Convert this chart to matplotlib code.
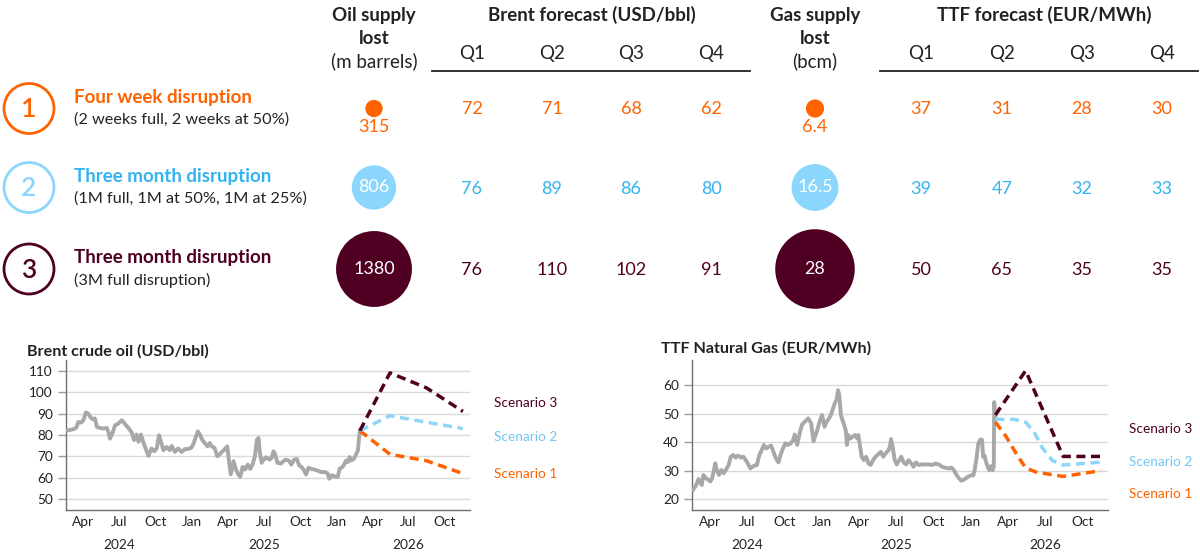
import pandas as pd
import matplotlib
matplotlib.use('Agg')
import matplotlib.pyplot as plt
import matplotlib.dates as mdates
import matplotlib.transforms as mtransforms
from matplotlib.patches import Circle

plt.rcParams['font.family'] = ['Lato', 'DejaVu Sans']

ORANGE = '#ff6200'
SKY = '#8bd6fc'
SKY_TEXT = '#33b3ef'
SKY_LINE = '#8fd5f8'
MAROON = '#4f0022'
GREY = '#a8a8a8'
INK = '#222222'

# ---- table data ----
scenario_titles = ['Four week disruption', 'Three month disruption', 'Three month disruption']
scenario_notes = ['(2 weeks full, 2 weeks at 50%)', '(1M full, 1M at 50%, 1M at 25%)',
                  '(3M full disruption)']
oil_lost = [315, 806, 1380]
gas_lost = [6.4, 16.5, 28]
quarters = ['Q1', 'Q2', 'Q3', 'Q4']
brent_forecast = [[72, 71, 68, 62], [76, 89, 86, 80], [76, 110, 102, 91]]
ttf_forecast = [[37, 31, 28, 30], [39, 47, 32, 33], [50, 65, 35, 35]]

# ---- Brent history (USD/bbl) ----
brent_dates = [
    '2024-02-22', '2024-03-02', '2024-03-11', '2024-03-15', '2024-03-19', '2024-03-26',
    '2024-04-01', '2024-04-07', '2024-04-13', '2024-04-20', '2024-04-24', '2024-04-30',
    '2024-05-05', '2024-05-13', '2024-05-21', '2024-05-30', '2024-06-03', '2024-06-07',
    '2024-06-13', '2024-06-20', '2024-06-28', '2024-07-07', '2024-07-11', '2024-07-19',
    '2024-07-25', '2024-08-01', '2024-08-07', '2024-08-13', '2024-08-18', '2024-08-24',
    '2024-08-30', '2024-09-05', '2024-09-12', '2024-09-20', '2024-09-27', '2024-10-03',
    '2024-10-09', '2024-10-14', '2024-10-20', '2024-10-28', '2024-11-05', '2024-11-10',
    '2024-11-18', '2024-11-26', '2024-12-05', '2024-12-13', '2024-12-22', '2024-12-29',
    '2025-01-03', '2025-01-09', '2025-01-15', '2025-01-20', '2025-01-26', '2025-02-01',
    '2025-02-08', '2025-02-14', '2025-02-19', '2025-02-26', '2025-03-05', '2025-03-11',
    '2025-03-16', '2025-03-23', '2025-03-30', '2025-04-04', '2025-04-08', '2025-04-15',
    '2025-04-21', '2025-04-27', '2025-05-02', '2025-05-08', '2025-05-14', '2025-05-21',
    '2025-05-27', '2025-06-02', '2025-06-08', '2025-06-13', '2025-06-17', '2025-06-20',
    '2025-06-25', '2025-06-30', '2025-07-06', '2025-07-15', '2025-07-20', '2025-07-25',
    '2025-07-29', '2025-08-04', '2025-08-13', '2025-08-19', '2025-08-25', '2025-09-02',
    '2025-09-08', '2025-09-15', '2025-09-22', '2025-09-28', '2025-10-04', '2025-10-11',
    '2025-10-15', '2025-10-21', '2025-10-28', '2025-11-05', '2025-11-13', '2025-11-22',
    '2025-12-01', '2025-12-08', '2025-12-13', '2025-12-19', '2025-12-26', '2026-01-03',
    '2026-01-08', '2026-01-13', '2026-01-18', '2026-01-24', '2026-01-29', '2026-02-02',
    '2026-02-06', '2026-02-13', '2026-02-19', '2026-02-23', '2026-02-26', '2026-02-28']
brent_values = [
    82.2, 82.5, 83.0, 83.8, 86.1, 85.8,
    86.9, 90.5, 90.0, 88.0, 87.4, 87.7,
    83.8, 83.3, 83.0, 83.3, 81.4, 78.3,
    80.7, 84.6, 85.3, 86.9, 86.1, 84.2,
    83.0, 81.1, 77.6, 80.2, 76.8, 80.2,
    76.8, 73.7, 70.3, 73.7, 72.4, 73.7,
    79.9, 76.8, 72.9, 74.4, 72.9, 74.9,
    72.1, 73.7, 72.1, 73.4, 73.5, 74.0,
    75.5, 78.6, 81.7, 80.2, 77.8, 76.3,
    74.7, 76.3, 74.7, 74.0, 70.1, 70.9,
    72.0, 73.2, 74.7, 67.0, 61.6, 67.8,
    63.9, 61.6, 60.5, 65.1, 63.9, 66.2,
    64.2, 66.2, 70.1, 77.8, 78.6, 72.4,
    67.0, 68.5, 69.6, 68.5, 69.3, 72.4,
    70.9, 67.0, 66.7, 67.8, 68.5, 68.0,
    66.2, 68.5, 68.8, 65.7, 65.1, 63.1,
    61.6, 64.7, 64.2, 63.9, 63.4, 62.7,
    62.7, 62.2, 59.6, 61.2, 60.7, 60.4,
    64.3, 64.7, 65.8, 68.1, 67.4, 69.7,
    68.1, 68.9, 71.2, 72.8, 79.0, 82.0]

# ---- TTF history (EUR/MWh) ----
ttf_dates = [
    '2024-02-19', '2024-02-25', '2024-02-29', '2024-03-04', '2024-03-08', '2024-03-12',
    '2024-03-16', '2024-03-23', '2024-03-29', '2024-04-02', '2024-04-06', '2024-04-10',
    '2024-04-14', '2024-04-18', '2024-04-23', '2024-04-29', '2024-05-05', '2024-05-12',
    '2024-05-17', '2024-05-22', '2024-05-28', '2024-06-03', '2024-06-09', '2024-06-16',
    '2024-06-22', '2024-06-28', '2024-07-04', '2024-07-09', '2024-07-14', '2024-07-20',
    '2024-07-25', '2024-07-31', '2024-08-06', '2024-08-11', '2024-08-17', '2024-08-23',
    '2024-08-29', '2024-09-05', '2024-09-10', '2024-09-16', '2024-09-21', '2024-09-27',
    '2024-10-03', '2024-10-09', '2024-10-16', '2024-10-22', '2024-10-26', '2024-11-01',
    '2024-11-08', '2024-11-13', '2024-11-20', '2024-11-28', '2024-12-05', '2024-12-11',
    '2024-12-20', '2024-12-27', '2025-01-01', '2025-01-07', '2025-01-12', '2025-01-18',
    '2025-01-23', '2025-01-28', '2025-02-01', '2025-02-06', '2025-02-09', '2025-02-12',
    '2025-02-16', '2025-02-20', '2025-02-24', '2025-02-28', '2025-03-03', '2025-03-06',
    '2025-03-11', '2025-03-17', '2025-03-23', '2025-03-28', '2025-03-31', '2025-04-05',
    '2025-04-08', '2025-04-13', '2025-04-19', '2025-04-25', '2025-04-30', '2025-05-06',
    '2025-05-12', '2025-05-18', '2025-05-25', '2025-05-31', '2025-06-06', '2025-06-13',
    '2025-06-17', '2025-06-19', '2025-06-23', '2025-06-28', '2025-07-03', '2025-07-09',
    '2025-07-14', '2025-07-20', '2025-07-26', '2025-08-01', '2025-08-08', '2025-08-13',
    '2025-08-19', '2025-08-26', '2025-09-03', '2025-09-11', '2025-09-20', '2025-09-28',
    '2025-10-06', '2025-10-14', '2025-10-22', '2025-10-31', '2025-11-08', '2025-11-14',
    '2025-11-20', '2025-11-27', '2025-12-03', '2025-12-08', '2025-12-15', '2025-12-22',
    '2025-12-27', '2026-01-02', '2026-01-07', '2026-01-10', '2026-01-15', '2026-01-19',
    '2026-01-24', '2026-01-28', '2026-01-31', '2026-02-03', '2026-02-07', '2026-02-11',
    '2026-02-15', '2026-02-19', '2026-02-23', '2026-02-26', '2026-02-27', '2026-03-02']
ttf_values = [
    23.2, 24.4, 25.6, 27.1, 25.9, 25.0,
    28.5, 27.3, 26.7, 26.2, 27.3, 29.7,
    32.6, 30.2, 28.5, 30.2, 29.1, 30.8,
    32.0, 34.9, 35.5, 34.6, 35.3, 34.6,
    34.9, 33.7, 32.2, 30.8, 31.4, 31.8,
    32.0, 35.5, 37.2, 39.0, 37.8, 38.4,
    38.8, 36.1, 34.3, 32.9, 35.5, 37.8,
    39.6, 39.0, 39.6, 40.7, 42.7, 39.0,
    43.7, 46.2, 47.2, 48.3, 46.6, 40.3,
    44.2, 47.7, 49.5, 45.4, 47.1, 48.3,
    49.7, 51.8, 53.6, 55.1, 58.2, 56.5,
    49.5, 47.7, 46.0, 44.2, 39.0, 42.5,
    41.3, 41.9, 42.5, 41.3, 42.5, 37.8,
    34.9, 33.7, 34.9, 32.5, 32.0, 33.7,
    34.9, 35.7, 36.6, 34.9, 36.1, 37.2,
    39.0, 41.1, 38.4, 33.7, 32.2, 33.7,
    34.9, 32.9, 32.2, 33.7, 32.5, 31.4,
    32.9, 32.0, 32.2, 32.2, 32.2, 32.0,
    32.5, 32.2, 31.4, 31.0, 30.8, 31.1,
    30.2, 28.4, 27.3, 26.5, 26.9, 27.6,
    28.1, 28.4, 28.4, 30.2, 34.8, 39.5,
    40.9, 40.9, 34.8, 35.4, 33.1, 31.3,
    30.2, 31.6, 30.2, 31.6, 54.0, 48.5]

# ---- scenario paths ----
brent_fc_dates = ['2026-02-28', '2026-05-15', '2026-08-15', '2026-11-15']
brent_s1 = [82, 71, 68, 62]
brent_s2 = [82, 89, 86, 83]
brent_s3 = [82, 109, 102, 91]

ttf_s1_dates = ['2026-03-02', '2026-03-28', '2026-04-26', '2026-05-15', '2026-06-10',
                '2026-08-15', '2026-11-15']
ttf_s1 = [47, 42, 35, 31, 29.5, 28, 30]
ttf_s2_dates = ['2026-03-02', '2026-04-15', '2026-05-15', '2026-06-05', '2026-06-25',
                '2026-07-20', '2026-08-15', '2026-11-15']
ttf_s2 = [48, 48, 47, 43.5, 38, 33.5, 32, 33]
ttf_s3_dates = ['2026-03-02', '2026-05-15', '2026-08-15', '2026-11-15']
ttf_s3 = [49.5, 65, 35, 35]

scenario_names = ['Scenario 1', 'Scenario 2', 'Scenario 3']

# ---- styles ----
row_main = [ORANGE, SKY_TEXT, MAROON]
row_soft = [ORANGE, SKY, MAROON]
line_cols = [ORANGE, SKY_LINE, MAROON]
label_cols = [ORANGE, '#74c6f2', MAROON]

fig = plt.figure(figsize=(12, 5.54), dpi=100)
top = fig.add_axes([0, 0, 1, 1])
top.set_xlim(0, 1200)
top.set_ylim(554, 0)
top.axis('off')

# column headers
oil_x, gas_x = 374, 815
brent_x = [472, 552, 631, 711]
ttf_x = [921, 1002, 1082, 1162]
hdr = dict(ha='center', va='center', color=INK, fontsize=13.5)
for x, lab in [(oil_x, 'm barrels'), (gas_x, 'bcm')]:
    name = 'Oil supply' if x == oil_x else 'Gas supply'
    top.text(x, 16, name, fontweight='bold', **hdr)
    top.text(x, 38, 'lost', fontweight='bold', **hdr)
    top.text(x, 61, '(%s)' % lab, **hdr)
top.text(592, 15, 'Brent forecast (USD/bbl)', fontweight='bold', **hdr)
top.text(1044, 15, 'TTF forecast (EUR/MWh)', fontweight='bold', **hdr)
for q, xb, xt in zip(quarters, brent_x, ttf_x):
    top.text(xb, 54, q, **hdr)
    top.text(xt, 54, q, **hdr)
top.plot([432, 750], [71, 71], color=INK, lw=1.3)
top.plot([880, 1198], [71, 71], color=INK, lw=1.3)

# scenario rows
row_y = [108.5, 187.5, 269]
for i in range(3):
    cy = row_y[i]
    top.add_patch(Circle((29, cy), 25, fill=False, ec=row_soft[i], lw=2))
    top.text(29, cy + 1, str(i + 1), ha='center', va='center', fontsize=19,
             fontweight='semibold', color=row_soft[i])
    top.text(74, cy - 11, scenario_titles[i], ha='left', va='center', fontsize=13.5,
             fontweight='bold', color=row_main[i])
    top.text(74, cy + 11.5, scenario_notes[i], ha='left', va='center', fontsize=11.7, color=INK)

    for cx, val, k in [(oil_x, oil_lost[i], 0.0275), (gas_x, gas_lost[i], 1.42)]:
        r = k * val
        top.add_patch(Circle((cx, cy), r, color=row_soft[i], lw=0))
        if r < 14:
            top.text(cx, cy + 19, '{:g}'.format(val), ha='center', va='center',
                     fontsize=13, color=row_main[i])
        else:
            top.text(cx, cy, '{:g}'.format(val), ha='center', va='center',
                     fontsize=13, color='white')

    for x, v in zip(brent_x, brent_forecast[i]):
        top.text(x, cy + 1, str(v), ha='center', va='center', fontsize=13, color=row_main[i])
    for x, v in zip(ttf_x, ttf_forecast[i]):
        top.text(x, cy + 1, str(v), ha='center', va='center', fontsize=13, color=row_main[i])

# chart titles
top.text(27, 351, 'Brent crude oil (USD/bbl)', ha='left', va='center', fontsize=11.6,
         fontweight='bold', color=INK)
top.text(661, 348, 'TTF Natural Gas (EUR/MWh)', ha='left', va='center', fontsize=11.6,
         fontweight='bold', color=INK)


def style_chart(ax, ylim, yticks):
    ax.set_xlim(pd.Timestamp('2024-02-17'), pd.Timestamp('2026-12-03'))
    ax.set_ylim(ylim)
    ax.set_yticks(yticks)
    ax.patch.set_alpha(0)
    ax.grid(axis='y', color='#d9d9d9', lw=1)
    ax.set_axisbelow(True)
    for s in ['top', 'right']:
        ax.spines[s].set_visible(False)
    for s in ['left', 'bottom']:
        ax.spines[s].set_color('#6f6f6f')
        ax.spines[s].set_linewidth(1)
    ax.xaxis.set_major_locator(mdates.MonthLocator(bymonth=[1, 4, 7, 10]))
    ax.xaxis.set_major_formatter(mdates.DateFormatter('%b'))
    ax.tick_params(axis='x', length=0, pad=4, labelsize=9.8, labelcolor=INK)
    ax.tick_params(axis='y', length=5.5, width=1, color='#9a9a9a', pad=4,
                   labelsize=9.8, labelcolor=INK)
    trans = mtransforms.blended_transform_factory(ax.transData, ax.transAxes)
    for year in [2024, 2025, 2026]:
        ax.text(pd.Timestamp('%d-07-01' % year), -0.235, str(year), transform=trans,
                ha='center', va='center', fontsize=9.8, color=INK)


# Brent chart
ax1 = fig.add_axes([66 / 1200, 1 - 510 / 554, 404 / 1200, 150 / 554])
style_chart(ax1, (45, 115), range(50, 111, 10))
ax1.plot(pd.to_datetime(brent_dates), brent_values, color=GREY, lw=2.8, zorder=3)
fc = pd.to_datetime(brent_fc_dates)
for vals, col in zip([brent_s1, brent_s2, brent_s3], line_cols):
    ax1.plot(fc, vals, color=col, lw=2.5, ls=(0, (2.6, 1.6)), zorder=4)
for name, y, col in zip(scenario_names, [0.24, 0.489, 0.711], label_cols):
    ax1.text(1.059, y, name, transform=ax1.transAxes, ha='left', va='center',
             fontsize=9.8, color=col)

# TTF chart
ax2 = fig.add_axes([692 / 1200, 1 - 510 / 554, 416 / 1200, 150 / 554])
style_chart(ax2, (16.25, 68.75), range(20, 61, 10))
ax2.plot(pd.to_datetime(ttf_dates), ttf_values, color=GREY, lw=2.8, zorder=3)
for d, vals, col in zip([ttf_s1_dates, ttf_s2_dates, ttf_s3_dates], [ttf_s1, ttf_s2, ttf_s3],
                        line_cols):
    ax2.plot(pd.to_datetime(d), vals, color=col, lw=2.5, ls=(0, (2.6, 1.6)), zorder=4)
for name, y, col in zip(scenario_names, [0.107, 0.32, 0.54], label_cols):
    ax2.text(1.05, y, name, transform=ax2.transAxes, ha='left', va='center',
             fontsize=9.8, color=col)

fig.savefig('out.png', dpi=100)
